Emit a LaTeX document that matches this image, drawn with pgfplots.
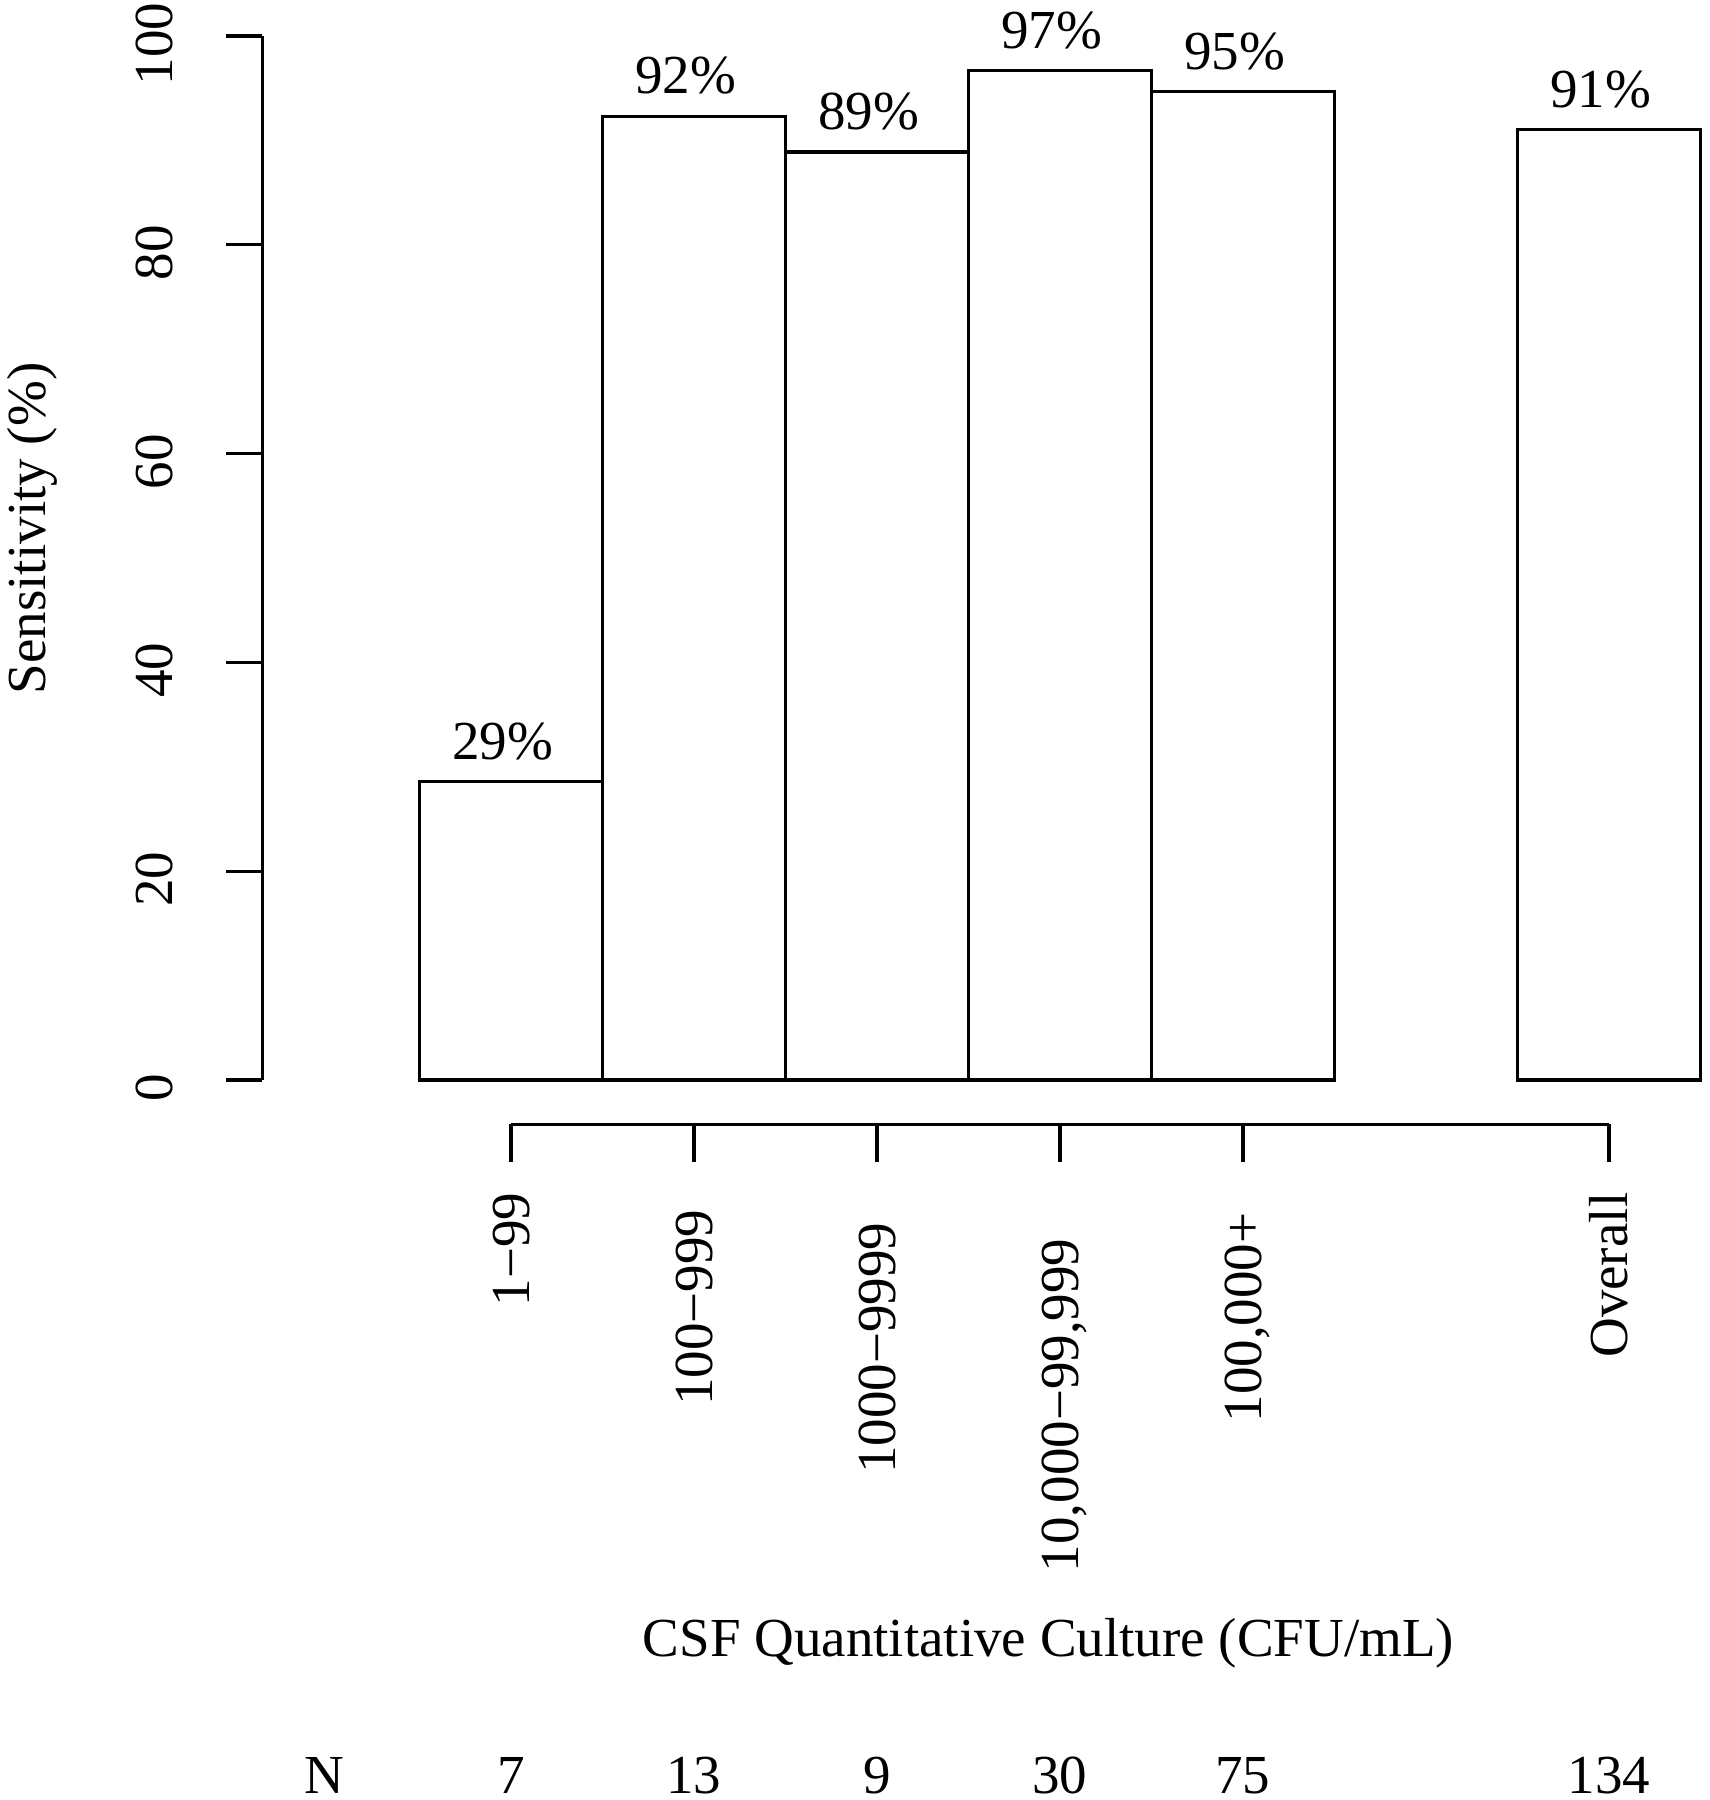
\documentclass[border=0pt]{standalone}
\usepackage{fontspec}
\setmainfont{Liberation Serif}
\usepackage{pgfplots}
\pgfplotsset{compat=1.18}
\newcommand\chartfont{\fontsize{15.65pt}{18pt}\selectfont}

\begin{document}
\chartfont
\begin{tikzpicture}[font=\chartfont, line width=0.95pt]
\useasboundingbox (0,0) rectangle (171mm,180mm);
% bars and sensitivity axis
\begin{axis}[
  at={(26.23mm,72mm)}, anchor=south west,
  scale only axis, width=143.82mm, height=104.4mm,
  xmin=-1.359, xmax=6.5, ymin=0, ymax=100,
  axis x line=none, axis y line=left,
  axis line style={-, line width=0.95pt},
  ytick={0,20,...,100}, tick align=outside, major tick length=3.6mm,
  tick style={line width=0.95pt, black},
  /pgf/number format/assume math mode=true,
  yticklabel style={yshift=-0.8mm, rotate=90, anchor=base, inner sep=0pt},
  yticklabel shift=5.33mm,
  ylabel={Sensitivity (\%)},
  ylabel style={at={([xshift=-21.73mm]axis description cs:0,0.5283)}, anchor=base, inner sep=0pt},
  clip=false,
  ybar, bar width=1,
  nodes near coords, point meta=explicit symbolic,
  every node near coord/.append style={anchor=base, xshift=-0.85mm, yshift=2.24mm, inner sep=0pt, black},
]
\addplot[fill=white, draw=black, line width=0.95pt] coordinates {
  (0,28.57) [29\%]
  (1,92.31) [92\%]
  (2,88.89) [89\%]
  (3,96.67) [97\%]
  (4,94.67) [95\%]
  (6,91.04) [91\%]
};
\end{axis}
% category axis, offset below the bars
\begin{axis}[
  at={(51.1mm,67.57mm)}, anchor=south west,
  scale only axis, width=109.8mm, height=10mm,
  xmin=0, xmax=6, ymin=0, ymax=1,
  axis x line=bottom, axis y line=none,
  axis line style={-, line width=0.95pt},
  xtick={0,1,2,3,4,6},
  xticklabels={1−99, 100−999\kern1.7mm, 1000−9999\kern3.0mm, {10,000−99,999\kern4.6mm}, {100,000+\kern2.0mm}, Overall},
  tick align=outside, major tick length=3.74mm,
  tick style={line width=0.95pt, black},
  xticklabel style={rotate=90, anchor=east, inner sep=0pt, text height=0.68em, text depth=0pt},
  xticklabel shift=3.03mm,
  xlabel={CSF Quantitative Culture (CFU/mL)},
  xlabel style={at={([yshift=-53.17mm]axis description cs:0.4895,0)}, anchor=base, inner sep=0pt},
  clip=false,
]
% sample sizes
\node[anchor=base, yshift=-66.87mm] at (axis cs:-1.02,0) {N};
\node[anchor=base, yshift=-66.87mm] at (axis cs:0,0) {7};
\node[anchor=base, yshift=-66.87mm] at (axis cs:1,0) {13};
\node[anchor=base, yshift=-66.87mm] at (axis cs:2,0) {9};
\node[anchor=base, yshift=-66.87mm] at (axis cs:3,0) {30};
\node[anchor=base, yshift=-66.87mm] at (axis cs:4,0) {75};
\node[anchor=base, yshift=-66.87mm] at (axis cs:6,0) {134};
\end{axis}
\end{tikzpicture}
\end{document}
